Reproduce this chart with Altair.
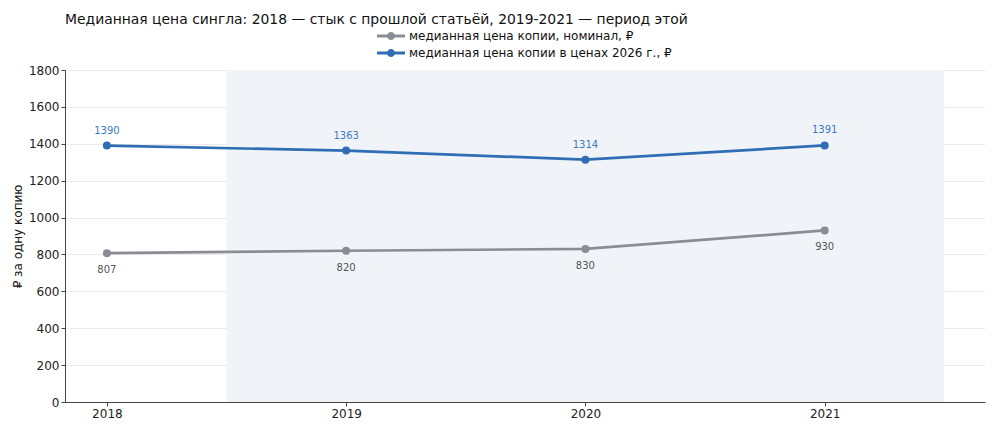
import altair as alt
import pandas as pd

years = [2018, 2019, 2020, 2021]
nominal = [807, 820, 830, 930]
real_2026 = [1390, 1363, 1314, 1391]
series_nominal = "медианная цена копии, номинал, ₽"
series_real = "медианная цена копии в ценах 2026 г., ₽"
shade_start = [2018.5]
shade_end = [2021.5]
y_ticks = [0, 200, 400, 600, 800, 1000, 1200, 1400, 1600, 1800]

df = pd.DataFrame({
    "year": years * 2,
    "value": nominal + real_2026,
    "series": [series_nominal] * 4 + [series_real] * 4,
})
shade = pd.DataFrame({"x": shade_start, "x2": shade_end})

W, H = 920, 332
xscale = alt.Scale(domain=[2017.825, 2021.67], nice=False, zero=False)
yscale = alt.Scale(domain=[0, 1800], nice=False)
X = alt.X("year:Q", scale=xscale,
          axis=alt.Axis(values=years, format="d", title=None, grid=False))
Y = alt.Y("value:Q", scale=yscale,
          axis=alt.Axis(values=y_ticks, format="d", title="₽ за одну копию", grid=True))
symbol_path = ("M-1.75,-0.18H1.75V0.18H-1.75Z "
               "M-0.5,0A0.5,0.5,0,1,1,0.5,0A0.5,0.5,0,1,1,-0.5,0Z")
color = alt.Color(
    "series:N",
    scale=alt.Scale(domain=[series_nominal, series_real], range=["#8a8d94", "#2f6db4"]),
    legend=alt.Legend(
        title=None, orient="none", legendX=318, legendY=-42,
        symbolType=symbol_path, symbolSize=256, symbolStrokeWidth=0,
        labelFontSize=12, labelColor="#111", labelLimit=500,
        labelFont="DejaVu Sans", rowPadding=3, labelOffset=10,
    ),
)

band = alt.Chart(shade).mark_rect(color="#f0f4f9").encode(
    x=alt.X("x:Q", scale=xscale), x2="x2:Q", y=alt.value(0), y2=alt.value(H)
)

base = alt.Chart(df)
lines = base.mark_line(strokeWidth=2.7).encode(x=X, y=Y, color=color)
points = base.mark_point(filled=True, size=64, opacity=1).encode(x=X, y=Y, color=color)
lab_real = base.transform_filter(alt.datum.series == series_real).mark_text(
    dy=-15, fontSize=10, color="#3c79c2", font="DejaVu Sans"
).encode(x=X, y=Y, text="value:Q")
lab_nom = base.transform_filter(alt.datum.series == series_nominal).mark_text(
    dy=17, fontSize=10, color="#555555", font="DejaVu Sans"
).encode(x=X, y=Y, text="value:Q")

chart = alt.layer(band, lines, points, lab_real, lab_nom).properties(
    width=W, height=H,
    title=alt.Title("Медианная цена сингла: 2018 — стык с прошлой статьёй, 2019-2021 — период этой",
                    anchor="start", frame="group", fontSize=13.9, font="DejaVu Sans",
                    fontWeight="normal", color="#111", offset=1),
    autosize=alt.AutoSizeParams(type="none"),
    padding={"left": 65, "top": 70, "right": 15, "bottom": 31},
).configure_view(stroke=None).configure_axis(
    labelFont="DejaVu Sans", titleFont="DejaVu Sans", labelFontSize=12, titleFontSize=12,
    titleFontWeight="normal", labelColor="#222", titleColor="#111",
    domainColor="#444", tickColor="#444", tickSize=4, gridColor="#ebebeb", gridWidth=1,
).configure_axisY(titlePadding=4)

chart.save("out.html", embed_options={"renderer": "svg", "actions": False})
